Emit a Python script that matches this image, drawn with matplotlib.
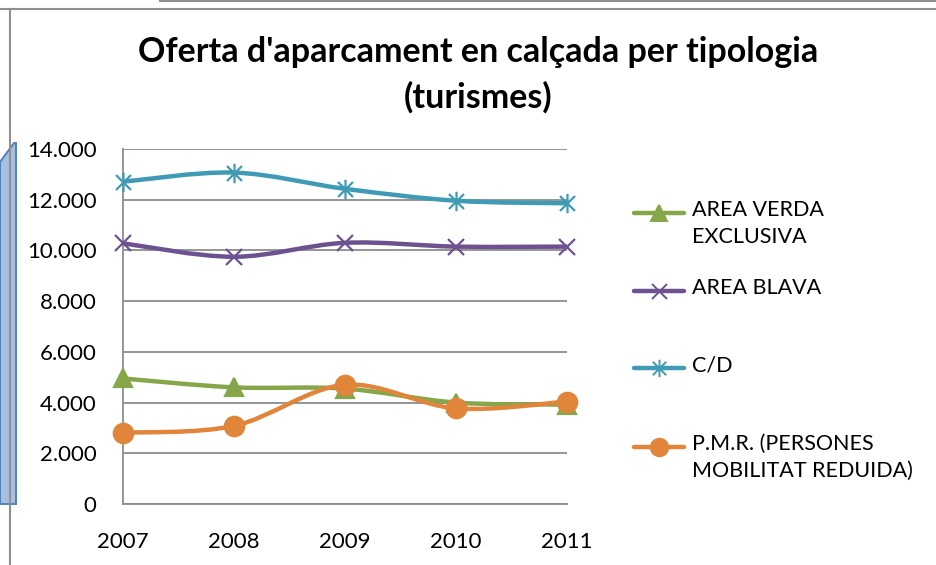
import matplotlib
matplotlib.use("Agg")
import matplotlib.pyplot as plt
from matplotlib.path import Path
from matplotlib.patches import PathPatch, Polygon
from matplotlib.lines import Line2D
from matplotlib.ticker import FuncFormatter
import numpy as np

plt.rcParams['font.family'] = ['Lato', 'DejaVu Sans']

years = [2007, 2008, 2009, 2010, 2011]
area_verda = [4950, 4600, 4550, 4000, 3920]
area_blava = [10280, 9750, 10300, 10150, 10150]
cd = [12710, 13070, 12430, 11960, 11860]
pmr = [2810, 3080, 4700, 3770, 4040]

labels = ["AREA VERDA\nEXCLUSIVA", "AREA BLAVA", "C/D", "P.M.R. (PERSONES\nMOBILITAT REDUIDA)"]
colors = ["#86a64a", "#6e5290", "#3f9bb4", "#e0853a"]

# excel-like star marker (x with vertical bar)
star = Path([(-1, -1), (1, 1), (-1, 1), (1, -1), (0, -1.3), (0, 1.3)],
            [Path.MOVETO, Path.LINETO, Path.MOVETO, Path.LINETO, Path.MOVETO, Path.LINETO])
markers = ["^", "x", star, "o"]
msizes = [13, 12, 14, 14]


def smooth_path(x, y):
    x = np.asarray(x, float)
    y = np.asarray(y, float)
    verts = [(x[0], y[0])]
    codes = [Path.MOVETO]
    n = len(x)
    for i in range(n - 1):
        i0 = max(i - 1, 0)
        i3 = min(i + 2, n - 1)
        c1 = (x[i] + (x[i + 1] - x[i0]) / 6, y[i] + (y[i + 1] - y[i0]) / 6)
        c2 = (x[i + 1] - (x[i3] - x[i]) / 6, y[i + 1] - (y[i3] - y[i]) / 6)
        verts += [c1, c2, (x[i + 1], y[i + 1])]
        codes += [Path.CURVE4] * 3
    return Path(verts, codes)


fig = plt.figure(figsize=(9.37, 5.65), dpi=100)
ax = fig.add_axes([123 / 937, 61 / 565, 444 / 937, 355 / 565])

series = [area_verda, area_blava, cd, pmr]
for vals, c, m, ms in zip(series, colors, markers, msizes):
    ax.add_patch(PathPatch(smooth_path(years, vals), fill=False, edgecolor=c,
                           lw=3.2, capstyle='round', joinstyle='round', zorder=3))
    ax.plot(years, vals, ls='none', marker=m, color=c, ms=ms, mew=1.6,
            clip_on=False, zorder=4)

ax.set_xlim(2007, 2011)
ax.set_ylim(0, 14000)
ax.set_yticks(range(0, 14001, 2000))
ax.set_xticks(years)
ax.yaxis.set_major_formatter(FuncFormatter(lambda v, p: f"{int(v):,}".replace(",", ".")))
ax.grid(axis='y', color='#8c8c8c', lw=1.3)
ax.set_axisbelow(True)
for s in ['top', 'right']:
    ax.spines[s].set_visible(False)
for s in ['left', 'bottom']:
    ax.spines[s].set_color('#8c8c8c')
    ax.spines[s].set_linewidth(1.3)
ax.tick_params(length=0, labelsize=16, pad=20)
ax.tick_params(axis='y', pad=19)

fig.text(478 / 937, 1 - 52 / 565, "Oferta d'aparcament en calçada per tipologia",
         ha='center', va='center', fontsize=24.5, fontweight='bold')
fig.text(478 / 937, 1 - 97 / 565, "(turismes)",
         ha='center', va='center', fontsize=24.5, fontweight='bold')

# legend drawn by hand
leg_y = [213, 291, 368, 447]
for lab, c, m, ms, yy in zip(labels, colors, markers, msizes, leg_y):
    fy = 1 - yy / 565
    fig.add_artist(Line2D([634 / 937, 684 / 937], [fy, fy], color=c, lw=3.2,
                          solid_capstyle='round', transform=fig.transFigure))
    fig.add_artist(Line2D([659 / 937], [fy], marker=m, color=c, ms=ms * 0.9,
                          mew=1.4, transform=fig.transFigure))
    fig.text(692 / 937, fy + 13 / 565, lab, ha='left', va='top', fontsize=15.5,
             linespacing=1.45, transform=fig.transFigure)

# frame lines and the blue shape on the left
fig.add_artist(Line2D([160 / 937, 1], [1 - 1 / 565, 1 - 1 / 565], color='#909090', lw=1.5))
fig.add_artist(Line2D([0, 1], [1 - 9 / 565, 1 - 9 / 565], color='#909090', lw=1.5))
fig.add_artist(Line2D([10 / 937, 10 / 937], [0, 1 - 9 / 565], color='#909090', lw=1.5))
fig.add_artist(Polygon([(0, 1 - 162 / 565), (14 / 937, 1 - 143 / 565), (16 / 937, 1 - 143 / 565),
                        (16 / 937, 1 - 504 / 565), (0, 1 - 504 / 565)],
                       closed=True, facecolor='#a9bfdf', edgecolor='#4f81bd', lw=1.4,
                       transform=fig.transFigure))

fig.savefig("out.png", dpi=100)
